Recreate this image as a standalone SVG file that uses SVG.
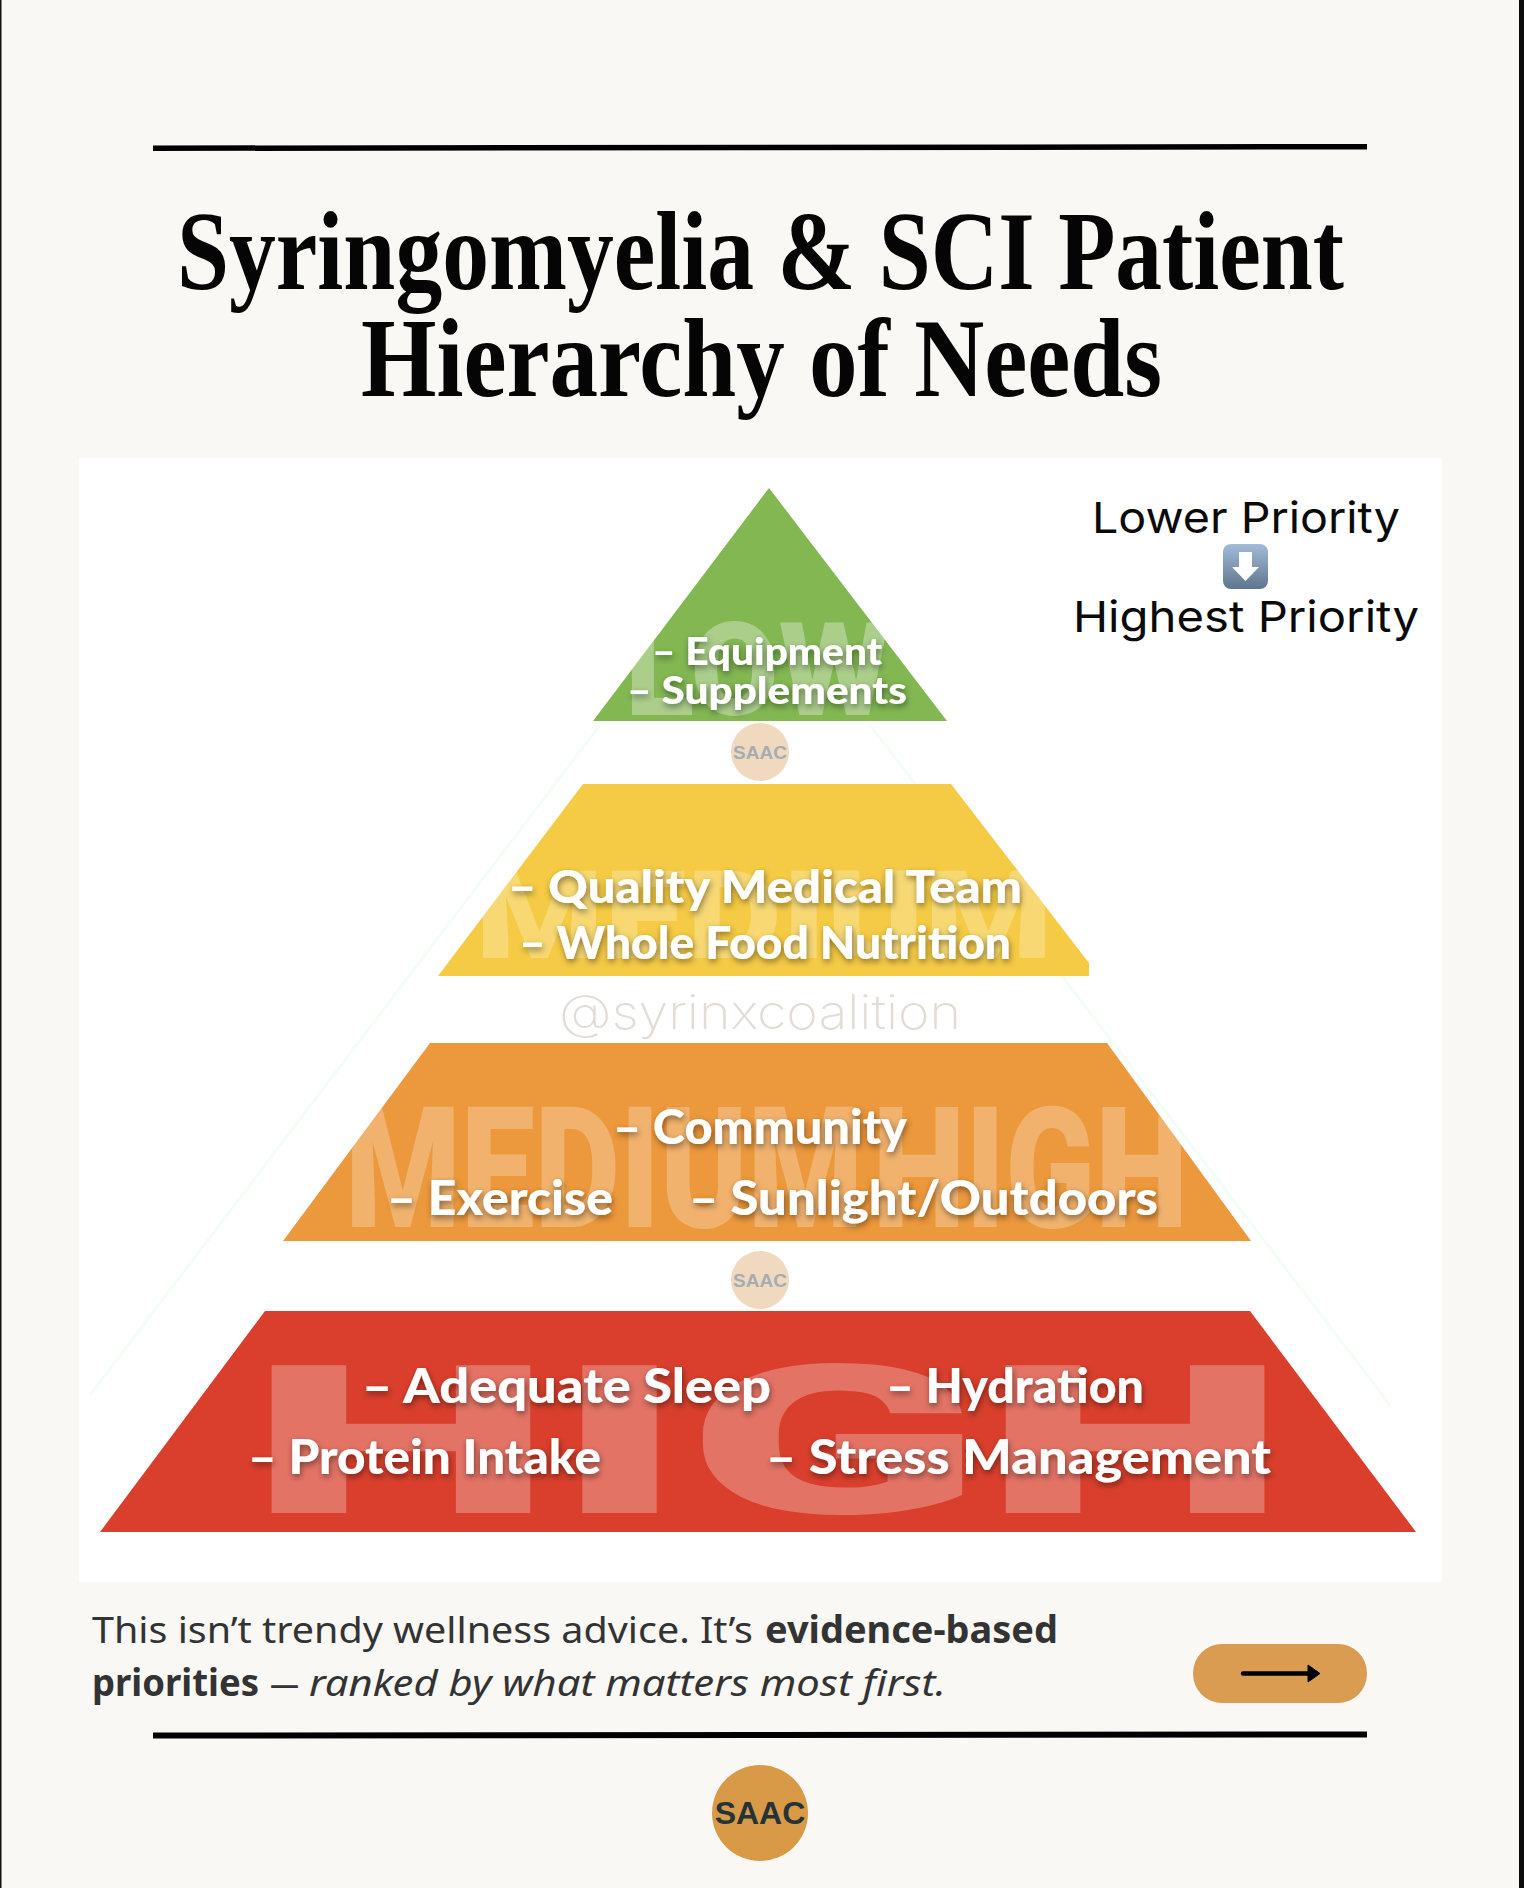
<svg xmlns="http://www.w3.org/2000/svg" width="1524" height="1888" viewBox="0 0 1524 1888">
<style>
.title{font-family:"Liberation Serif",serif;font-weight:700;font-size:100px;fill:#050505}
.lab{font-family:Lato,"Liberation Sans",sans-serif;font-weight:900;fill:#fff;filter:url(#sh)}
.ghost{font-family:Roboto,"Liberation Sans",sans-serif;font-weight:900;fill:#fff}
.pri{font-family:Inter,"Open Sans",sans-serif;font-weight:400;font-size:43px;fill:#0a0a0a}
.cap{font-family:"Noto Sans","Liberation Sans",sans-serif;font-size:37px;fill:#333}
.seal{font-family:"Liberation Sans",sans-serif;font-weight:700;text-anchor:middle}
.rule{fill:#000}
</style>
<defs>
<filter id="sh" x="-10%" y="-30%" width="120%" height="170%"><feDropShadow dx="1" dy="3" stdDeviation="3" flood-color="#000" flood-opacity=".45"/></filter>
<linearGradient id="ic" x1="0" y1="0" x2="0" y2="1"><stop offset="0" stop-color="#a2bcd8"/><stop offset="1" stop-color="#5f758f"/></linearGradient>
<clipPath id="c1"><polygon points="769,488 947,721 593,721"/></clipPath>
<clipPath id="c2"><polygon points="583,784 951,784 1089,963 1089,976 438,976"/></clipPath>
<clipPath id="c3"><polygon points="430,1043 1107,1043 1251,1241 283,1241"/></clipPath>
<clipPath id="c4"><polygon points="265,1311 1250,1311 1416,1532 100,1532"/></clipPath>
</defs>
<rect width="1524" height="1888" fill="#f9f8f4"/>
<rect x="0" y="0" width="1.5" height="1888" fill="#111"/>
<rect x="1519" y="0" width="5" height="1888" fill="#0c0c0c"/>
<polygon class="rule" points="153,145.5 1367,144 1367,149.5 153,151"/>
<g id="title">
<text class="title" transform="translate(177 289) scale(1 1.12)" textLength="1167" lengthAdjust="spacingAndGlyphs">Syringomyelia &amp; SCI Patient</text>
<text class="title" transform="translate(361 396) scale(1 1.12)" textLength="801" lengthAdjust="spacingAndGlyphs">Hierarchy of Needs</text>
</g>
<rect x="79" y="458" width="1363" height="1124" fill="#fff"/>
<g id="outline" fill="none" stroke="#f3fdf6" stroke-width="3">
<path d="M600,725 90,1395"/><path d="M870,725 1390,1405"/>
</g>
<g id="tier-low">
<polygon points="769,488 947,721 593,721" fill="#82b752"/>
<text class="ghost" clip-path="url(#c1)" x="625" y="715" font-size="130" opacity=".33" textLength="265" lengthAdjust="spacingAndGlyphs">LOW</text>
<text class="lab" x="652" y="665" font-size="38" textLength="230" lengthAdjust="spacingAndGlyphs">– Equipment</text>
<text class="lab" x="627" y="704" font-size="38" textLength="280" lengthAdjust="spacingAndGlyphs">– Supplements</text>
</g>
<g id="seal-1">
<circle cx="760" cy="752" r="29" fill="#f0d9bf"/>
<text class="seal" x="760" y="759" font-size="19" fill="#a6adb2">SAAC</text>
</g>
<g id="tier-medium">
<polygon points="583,784 951,784 1089,963 1089,976 438,976" fill="#f5cb45"/>
<text class="ghost" clip-path="url(#c2)" x="475" y="958" font-size="122" opacity=".25" textLength="578" lengthAdjust="spacingAndGlyphs">MEDIUM</text>
<text class="lab" x="508" y="903" font-size="45" textLength="514" lengthAdjust="spacingAndGlyphs">– Quality Medical Team</text>
<text class="lab" x="519" y="959" font-size="45" textLength="492" lengthAdjust="spacingAndGlyphs">– Whole Food Nutrition</text>
</g>
<text id="handle" x="559" y="1029" font-family="Inter,'Open Sans',sans-serif" font-weight="200" font-size="48" fill="#e3dcd6" textLength="402" lengthAdjust="spacingAndGlyphs">@syrinxcoalition</text>
<g id="tier-medium-high">
<polygon points="430,1043 1107,1043 1251,1241 283,1241" fill="#ec983c"/>
<text class="ghost" clip-path="url(#c3)" x="345" y="1227" font-size="168" opacity=".25" word-spacing="-30" textLength="843" lengthAdjust="spacingAndGlyphs">MEDIUM HIGH</text>
<text class="lab" x="613" y="1144" font-size="47" textLength="294" lengthAdjust="spacingAndGlyphs">– Community</text>
<text class="lab" x="387" y="1215" font-size="47" textLength="226" lengthAdjust="spacingAndGlyphs">– Exercise</text>
<text class="lab" x="689" y="1215" font-size="47" textLength="469" lengthAdjust="spacingAndGlyphs">– Sunlight/Outdoors</text>
</g>
<g id="seal-2">
<circle cx="760" cy="1280" r="29" fill="#f0d9bf"/>
<text class="seal" x="760" y="1287" font-size="19" fill="#a6adb2">SAAC</text>
</g>
<g id="tier-high">
<polygon points="265,1311 1250,1311 1416,1532 100,1532" fill="#d93f2c"/>
<text class="ghost" clip-path="url(#c4)" x="248" y="1513" font-size="208" opacity=".27" textLength="1040" lengthAdjust="spacingAndGlyphs">HIGH</text>
<text class="lab" x="362" y="1403" font-size="47" textLength="409" lengthAdjust="spacingAndGlyphs">– Adequate Sleep</text>
<text class="lab" x="886" y="1403" font-size="47" textLength="258" lengthAdjust="spacingAndGlyphs">– Hydration</text>
<text class="lab" x="248" y="1474" font-size="47" textLength="353" lengthAdjust="spacingAndGlyphs">– Protein Intake</text>
<text class="lab" x="766" y="1474" font-size="47" textLength="505" lengthAdjust="spacingAndGlyphs">– Stress Management</text>
</g>
<g id="priority">
<text class="pri" x="1092" y="533" textLength="308" lengthAdjust="spacingAndGlyphs">Lower Priority</text>
<rect x="1223" y="544" width="45" height="45" rx="8" fill="url(#ic)"/>
<polygon points="1239,552 1252,552 1252,567 1259,567 1245.5,581 1232,567 1239,567" fill="#fff"/>
<text class="pri" x="1073" y="632" textLength="346" lengthAdjust="spacingAndGlyphs">Highest Priority</text>
</g>
<g id="caption">
<text class="cap" x="92" y="1643" textLength="661" lengthAdjust="spacingAndGlyphs">This isn’t trendy wellness advice. It’s</text>
<text class="cap" x="765" y="1643" font-weight="700" textLength="293" lengthAdjust="spacingAndGlyphs">evidence-based</text>
<text class="cap" x="92" y="1696" font-weight="700" textLength="167" lengthAdjust="spacingAndGlyphs">priorities</text>
<text class="cap" x="270" y="1696" textLength="29" lengthAdjust="spacingAndGlyphs">—</text>
<text class="cap" x="309" y="1696" font-style="italic" textLength="637" lengthAdjust="spacingAndGlyphs">ranked by what matters most first.</text>
</g>
<g id="next-button">
<rect x="1193" y="1644" width="174" height="59" rx="29" fill="#d99c50"/>
<path d="M1243,1673.5H1310" stroke="#000" stroke-width="4.5" stroke-linecap="round" fill="none"/>
<polygon points="1308,1665 1320,1673.5 1308,1682" fill="#000" stroke="#000" stroke-width="1" stroke-linejoin="round"/>
</g>
<polygon class="rule" points="153,1732.5 1367,1731.5 1367,1737.5 153,1738.5"/>
<g id="logo">
<circle cx="760" cy="1813" r="48" fill="#d99a48"/>
<text class="seal" x="760" y="1824" font-size="32" fill="#253338">SAAC</text>
</g>
</svg>
